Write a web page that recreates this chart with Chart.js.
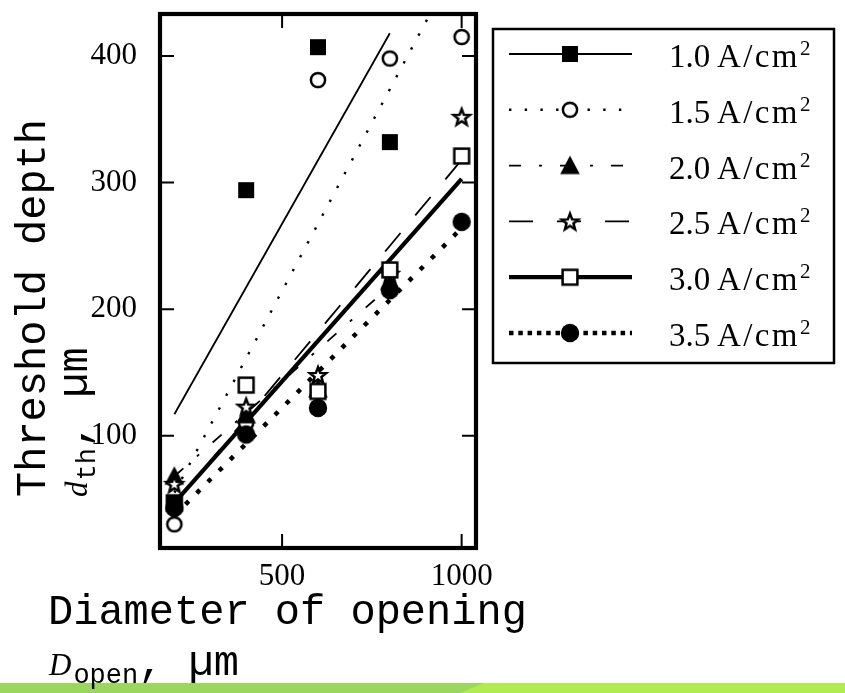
<!DOCTYPE html>
<html>
<head>
<meta charset="utf-8">
<title>Threshold depth vs diameter of opening</title>
<style>
  html, body { margin: 0; padding: 0; background: #ffffff; }
  #wrap { width: 845px; height: 693px; position: relative; }
  canvas { display: block; }
</style>
<script src="https://cdn.jsdelivr.net/npm/chart.js@4.4.1/dist/chart.umd.min.js"></script>
</head>
<body>
<div id="wrap"><canvas id="chart" width="845" height="693"></canvas></div>
<script>
// Opening diameters (µm) and current densities (A/cm²)
const diameters = [200, 400, 600, 800, 1000];
const currentDensities = ['1.0', '1.5', '2.0', '2.5', '3.0', '3.5'];

// Measured threshold depth (µm) per current density; null = not measured
const depth10 = [47, 294, 407, 332, null];
const depth15 = [30, 110, 381, 398, 415];
const depth20 = [68, 116.5, 137, 222, null];
const depth25 = [62, 123, 148, 228, 352];
const depth30 = [47, 140, 135, 231, 321];
const depth35 = [43, 101, 122, 215, 269];

// Linear trend lines: end points (diameter, depth) per current density
const trendFromX = [200, 200, 200, 200, 200, 200];
const trendToX   = [800, 1000, 800, 1000, 1000, 1000];
const trendFromY = [117, 55, 68, 46, 47, 37];
const trendToY   = [418, 480, 218, 318, 303, 264];

// Axis ticks
const xTicks = [500, 1000];
const yTicks = [100, 200, 300, 400];

const depthSeries = [depth10, depth15, depth20, depth25, depth30, depth35];

// ---- marker glyphs ----
function makeMarker(kind) {
  const c = document.createElement('canvas');
  c.width = 26; c.height = 26;
  const g = c.getContext('2d');
  const cx = 13, cy = 13;
  g.strokeStyle = '#000';
  g.fillStyle = '#000';
  g.lineWidth = 2.5;
  g.lineJoin = 'miter';
  if (kind === 'filledSquare') {
    g.fillRect(cx - 8, cy - 8, 16, 16);
  } else if (kind === 'openCircle') {
    g.beginPath(); g.arc(cx, cy, 7.1, 0, Math.PI * 2);
    g.fillStyle = '#fff'; g.fill(); g.stroke();
  } else if (kind === 'filledTriangle') {
    g.beginPath();
    g.moveTo(cx, cy - 10); g.lineTo(cx + 9.8, cy + 8.5); g.lineTo(cx - 9.8, cy + 8.5);
    g.closePath(); g.fill();
  } else if (kind === 'openStar') {
    const ro = 8.6, ri = ro * 0.42;
    g.beginPath();
    for (let i = 0; i < 10; i++) {
      const r = i % 2 === 0 ? ro : ri;
      const a = -Math.PI / 2 + i * Math.PI / 5;
      const px = cx + r * Math.cos(a), py = cy + 0.8 + r * Math.sin(a);
      if (i === 0) g.moveTo(px, py); else g.lineTo(px, py);
    }
    g.closePath();
    g.fillStyle = '#fff'; g.fill(); g.stroke();
  } else if (kind === 'openSquare') {
    g.fillStyle = '#fff';
    g.fillRect(cx - 7.4, cy - 7.4, 14.8, 14.8);
    g.strokeRect(cx - 7.4, cy - 7.4, 14.8, 14.8);
  } else if (kind === 'filledCircle') {
    g.beginPath(); g.arc(cx, cy, 9.2, 0, Math.PI * 2); g.fill();
  }
  return c;
}

const markerKinds = ['filledSquare', 'openCircle', 'filledTriangle', 'openStar', 'openSquare', 'filledCircle'];
const markers = markerKinds.map(makeMarker);

// trend line appearance per current density (legend may use a denser pattern)
const lineStyles = [
  { width: 1.8, dash: [], legendDash: [] },
  { width: 2.4, dash: [2.4, 13.3], legendDash: [2.4, 13.3] },
  { width: 1.8, dash: [12, 18, 3, 18], legendDash: [12, 18, 3, 18] },
  { width: 1.8, dash: [24, 23], legendDash: [24, 24] },
  { width: 4.2, dash: [], legendDash: [] },
  { width: 4.5, dash: [4.5, 11.3], legendDash: [4.5, 4.8] }
];

// stacking of the marker layers (lower = drawn later, on top)
const markerOrder = [3, 8, 7, 6, 5, 1];

const datasets = [];
currentDensities.forEach((cd, i) => {
  datasets.push({
    type: 'scatter',
    label: cd + ' A/cm²',
    data: diameters.map((d, k) => ({ x: d, y: depthSeries[i][k] })).filter(p => p.y !== null),
    pointStyle: markers[i],
    pointRadius: 9,
    showLine: false,
    order: markerOrder[i]
  });
});
currentDensities.forEach((cd, i) => {
  datasets.push({
    type: 'line',
    label: cd + ' trend',
    data: [{ x: trendFromX[i], y: trendFromY[i] }, { x: trendToX[i], y: trendToY[i] }],
    borderColor: '#000',
    borderWidth: lineStyles[i].width,
    borderDash: lineStyles[i].dash,
    borderCapStyle: 'butt',
    pointRadius: 0,
    fill: false,
    tension: 0,
    order: 20 - i
  });
});

// frame, inward tick marks on all four sides
const framePlugin = {
  id: 'frame',
  afterDatasetsDraw(chart) {
    const { ctx, chartArea: a, scales } = chart;
    ctx.save();
    ctx.strokeStyle = '#000';
    ctx.lineWidth = 2;
    const len = 14;
    xTicks.forEach(v => {
      const px = scales.x.getPixelForValue(v);
      ctx.beginPath();
      ctx.moveTo(px, a.bottom); ctx.lineTo(px, a.bottom - len);
      ctx.moveTo(px, a.top); ctx.lineTo(px, a.top + len);
      ctx.stroke();
    });
    yTicks.forEach(v => {
      const py = scales.y.getPixelForValue(v);
      ctx.beginPath();
      ctx.moveTo(a.left, py); ctx.lineTo(a.left + len, py);
      ctx.moveTo(a.right, py); ctx.lineTo(a.right - len, py);
      ctx.stroke();
    });
    ctx.lineWidth = 4.2;
    ctx.strokeRect(a.left, a.top, a.right - a.left, a.bottom - a.top);
    ctx.restore();
  }
};

// legend box with line sample, marker and label per current density
const legendPlugin = {
  id: 'sideLegend',
  afterDraw(chart) {
    const ctx = chart.ctx;
    const box = { x: 493, y: 29, w: 341, h: 334 };
    ctx.save();
    ctx.fillStyle = '#fff';
    ctx.fillRect(box.x, box.y, box.w, box.h);
    ctx.strokeStyle = '#000';
    ctx.lineWidth = 2.5;
    ctx.strokeRect(box.x, box.y, box.w, box.h);
    const rowY0 = 54, rowStep = 55.8;
    currentDensities.forEach((cd, i) => {
      const cy = rowY0 + i * rowStep;
      const st = lineStyles[i];
      ctx.save();
      ctx.lineWidth = st.width;
      ctx.setLineDash(st.legendDash);
      ctx.lineCap = 'butt';
      ctx.beginPath();
      ctx.moveTo(509, cy); ctx.lineTo(632, cy);
      ctx.stroke();
      ctx.restore();
      const m = markers[i];
      ctx.drawImage(m, 570 - m.width / 2, cy - m.height / 2);
      ctx.fillStyle = '#000';
      ctx.textAlign = 'left';
      ctx.textBaseline = 'alphabetic';
      ctx.font = '33px "Liberation Serif"';
      ctx.fillText(cd, 669, cy + 13);
      ctx.letterSpacing = '2.4px';
      ctx.fillText('A/cm', 717, cy + 13);
      const w = ctx.measureText('A/cm').width;
      ctx.letterSpacing = '0px';
      ctx.font = '21px "Liberation Serif"';
      ctx.fillText('2', 717 + w, cy + 1);
    });
    ctx.restore();
  }
};

// axis titles with math-style subscripts
const titlePlugin = {
  id: 'axisTitles',
  afterDraw(chart) {
    const ctx = chart.ctx;
    ctx.save();
    ctx.fillStyle = '#000';
    ctx.textAlign = 'left';
    ctx.textBaseline = 'alphabetic';
    const mono = '"Liberation Mono"';
    // horizontal axis
    ctx.font = '42px ' + mono;
    ctx.fillText('Diameter of opening', 48, 624);
    let x = 49;
    ctx.font = 'italic 31px "Liberation Serif"';
    ctx.fillText('D', x, 675);
    x += ctx.measureText('D').width + 2;
    ctx.font = '27px ' + mono;
    ctx.fillText('open', x, 683);
    x += ctx.measureText('open').width;
    ctx.font = '42px ' + mono;
    ctx.fillText(', µm', x, 675);
    ctx.restore();

    // vertical axis (rotated)
    ctx.save();
    ctx.fillStyle = '#000';
    ctx.textAlign = 'left';
    ctx.textBaseline = 'alphabetic';
    ctx.translate(45, 497);
    ctx.rotate(-Math.PI / 2);
    ctx.font = '42px ' + mono;
    ctx.fillText('Threshold depth', 0, 0);
    ctx.restore();

    ctx.save();
    ctx.fillStyle = '#000';
    ctx.textAlign = 'left';
    ctx.textBaseline = 'alphabetic';
    ctx.translate(87, 497);
    ctx.rotate(-Math.PI / 2);
    let y = 0;
    ctx.font = 'italic 31px "Liberation Serif"';
    ctx.fillText('d', y, 0);
    y += ctx.measureText('d').width + 1;
    ctx.font = '27px ' + mono;
    ctx.fillText('th', y, 8);
    y += ctx.measureText('th').width;
    ctx.font = '42px ' + mono;
    ctx.fillText(', µm', y, 0);
    ctx.restore();
  }
};

// green footer band
const bandPlugin = {
  id: 'band',
  beforeDraw(chart) {
    const ctx = chart.ctx;
    ctx.save();
    ctx.fillStyle = '#ffffff';
    ctx.fillRect(0, 0, 845, 693);
    ctx.fillStyle = '#b1eb52';
    ctx.fillRect(0, 683, 845, 10);
    ctx.fillStyle = '#9bd75f';
    ctx.beginPath();
    ctx.moveTo(0, 683); ctx.lineTo(484, 683); ctx.lineTo(460, 693); ctx.lineTo(0, 693);
    ctx.closePath(); ctx.fill();
    ctx.restore();
  }
};

const tickFont = { family: '"Liberation Serif"', size: 31 };

new Chart(document.getElementById('chart'), {
  data: { datasets },
  options: {
    responsive: false,
    animation: false,
    events: [],
    layout: { padding: { left: 0, top: 14, right: 369, bottom: 0 } },
    plugins: { legend: { display: false }, tooltip: { enabled: false } },
    scales: {
      x: {
        type: 'linear',
        min: 160, max: 1040,
        grid: { display: false, drawTicks: false },
        border: { display: false },
        afterBuildTicks(s) { s.ticks = xTicks.map(v => ({ value: v })); },
        afterFit(s) { s.height = 145; s.paddingLeft = 0; s.paddingRight = 0; },
        ticks: { color: '#000', font: tickFont, padding: 10, maxRotation: 0, callback: v => String(v) }
      },
      y: {
        type: 'linear',
        min: 11.3, max: 433.2,
        grid: { display: false, drawTicks: false },
        border: { display: false },
        afterBuildTicks(s) { s.ticks = yTicks.map(v => ({ value: v })); },
        afterFit(s) { s.width = 160; s.paddingTop = 0; s.paddingBottom = 0; },
        ticks: { color: '#000', font: tickFont, padding: 23, callback: v => String(v) }
      }
    }
  },
  plugins: [bandPlugin, framePlugin, legendPlugin, titlePlugin]
});
</script>
</body>
</html>
